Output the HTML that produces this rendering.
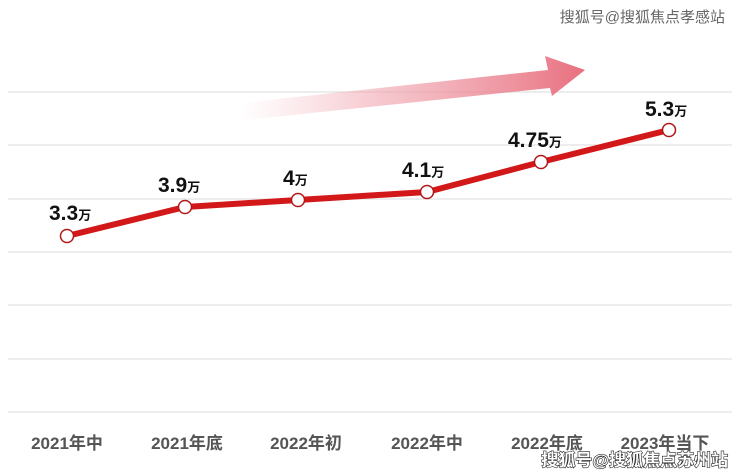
<!DOCTYPE html>
<html><head><meta charset="utf-8"><style>
body{margin:0;background:#fff;}
svg{display:block;font-family:"Liberation Sans","Noto Sans CJK SC",sans-serif;}
</style></head><body>
<svg width="740" height="474" viewBox="0 0 740 474">
<defs>
<linearGradient id="g" x1="240" y1="0" x2="585" y2="0" gradientUnits="userSpaceOnUse">
<stop offset="0" stop-color="#f3b3bc" stop-opacity="0"/>
<stop offset="0.4" stop-color="#f0a3ae" stop-opacity="0.6"/>
<stop offset="1" stop-color="#e8707f"/>
</linearGradient>
</defs>
<g stroke="#e2e2e2" stroke-width="1.3">
<line x1="8" y1="92" x2="732" y2="92"/><line x1="8" y1="145" x2="732" y2="145"/>
<line x1="8" y1="199" x2="732" y2="199"/><line x1="8" y1="252" x2="732" y2="252"/>
<line x1="8" y1="305" x2="732" y2="305"/><line x1="8" y1="359" x2="732" y2="359"/>
<line x1="8" y1="412" x2="732" y2="412"/>
</g>
<polygon points="240,103 548,70 545,56 585,70 552,96 550,88 245,120" fill="url(#g)"/>
<polyline points="67,236 185,207 298,200 427,192 541,162 669,130" fill="none" stroke="#d21818" stroke-width="6" stroke-linejoin="round"/>
<g fill="#fff" stroke="#b01818" stroke-width="1.5">
<circle cx="67" cy="236" r="6.5"/><circle cx="185" cy="207" r="6.5"/><circle cx="298" cy="200" r="6.5"/>
<circle cx="427" cy="192" r="6.5"/><circle cx="541" cy="162" r="6.5"/><circle cx="669" cy="130" r="6.5"/>
</g>
<g font-weight="bold" fill="#111" font-size="21">
<text x="49" y="220">3.3<tspan font-size="13">万</tspan></text>
<text x="158" y="192">3.9<tspan font-size="13">万</tspan></text>
<text x="283" y="185">4<tspan font-size="13">万</tspan></text>
<text x="402" y="177">4.1<tspan font-size="13">万</tspan></text>
<text x="508" y="147">4.75<tspan font-size="13">万</tspan></text>
<text x="645" y="116">5.3<tspan font-size="13">万</tspan></text>
</g>
<g fill="#555" font-size="17" font-weight="bold" text-anchor="middle">
<text x="67" y="449">2021年中</text><text x="187" y="449">2021年底</text>
<text x="306" y="449">2022年初</text><text x="427" y="449">2022年中</text>
<text x="547" y="449">2022年底</text><text x="665" y="449">2023年当下</text>
</g>
<text x="725" y="22" text-anchor="end" font-size="15" fill="#666">搜狐号@搜狐焦点孝感站</text>
<text x="728" y="466" text-anchor="end" font-size="17" font-weight="bold" fill="#fff" stroke="#222" stroke-width="1.2" paint-order="stroke">搜狐号@搜狐焦点苏州站</text>
</svg>
</body></html>
